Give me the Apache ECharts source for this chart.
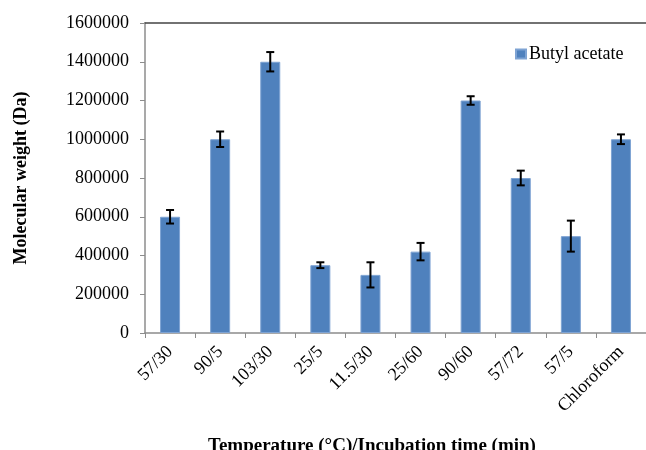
<!DOCTYPE html>
<html>
<head>
<meta charset="utf-8">
<script src="https://cdn.jsdelivr.net/npm/echarts@6/dist/echarts.min.js"></script>
<style>
  html, body { margin: 0; padding: 0; background: #fff; }
  #chart { width: 646px; height: 450px; }
</style>
</head>
<body>
<div id="chart"></div>
<script>
// data
var categories = ["57/30", "90/5", "103/30", "25/5", "11.5/30", "25/60", "90/60", "57/72", "57/5", "Chloroform"];
var molWeight = [600000, 1000000, 1400000, 350000, 300000, 420000, 1200000, 800000, 500000, 1000000];
var errors = [35000, 40000, 50000, 15000, 65000, 45000, 22000, 38000, 80000, 25000];
var yTicks = [0, 200000, 400000, 600000, 800000, 1000000, 1200000, 1400000, 1600000];

var serif = "Liberation Serif";
var myChart = echarts.init(document.getElementById("chart"));

// error bar data: [index, low, high]
var errData = [];
categories.forEach(function (c, i) {
  errData.push([i, molWeight[i] - errors[i], molWeight[i] + errors[i]]);
});

var option = {
  backgroundColor: "#fff",
  animation: false,
  title: {
    text: "Temperature (\u00b0C)/Incubation time (min)",
    left: 203,
    top: 432,
    textStyle: {
      fontFamily: serif,
      fontSize: 19,
      fontWeight: "bold",
      color: "#000",
    },
  },
  legend: {
    data: ["Butyl acetate"],
    left: 510,
    top: 40,
    itemWidth: 10,
    itemHeight: 9,
    icon: "rect",
    textStyle: {
      fontFamily: serif,
      fontSize: 18,
      color: "#000",
      padding: [0, 0, 0, -2],
    },
  },
  grid: {
    left: 145,
    right: -3,
    top: 23,
    bottom: 117,
  },
  xAxis: [
    {
      type: "category",
      data: categories,
      axisLine: { lineStyle: { color: "#8c8c8c", width: 1.5 } },
      axisTick: { show: true, length: 5, lineStyle: { color: "#8c8c8c" } },
      axisLabel: {
        rotate: 45,
        margin: 16,
        interval: 0,
        fontFamily: serif,
        fontSize: 18,
        color: "#000",
      },
    },
    {
      // top frame line
      type: "category",
      position: "top",
      data: categories,
      axisLine: { lineStyle: { color: "#444", width: 1.5 } },
      axisTick: { show: false },
      axisLabel: { show: false },
    },
  ],
  yAxis: {
    type: "value",
    min: 0,
    max: yTicks[yTicks.length - 1],
    interval: 200000,
    name: "Molecular weight (Da)",
    nameLocation: "middle",
    nameGap: 115,
    nameTextStyle: {
      fontFamily: serif,
      fontSize: 18,
      fontWeight: "bold",
      color: "#000",
    },
    axisLine: { show: true, lineStyle: { color: "#8c8c8c", width: 1.5 } },
    axisTick: { show: true, length: 5, lineStyle: { color: "#8c8c8c" } },
    splitLine: { show: false },
    axisLabel: {
      margin: 16,
      fontFamily: serif,
      fontSize: 18,
      color: "#000",
      formatter: function (v) {
        return String(v);
      },
    },
  },
  series: [
    {
      name: "Butyl acetate",
      type: "bar",
      data: molWeight,
      barWidth: 20,
      itemStyle: {
        color: "#4f81bd",
        borderColor: "#7ea3d3",
        borderWidth: 1,
      },
    },
    {
      type: "custom",
      data: errData,
      z: 10,
      renderItem: function (params, api) {
        var lo = api.coord([api.value(0), api.value(1)]);
        var hi = api.coord([api.value(0), api.value(2)]);
        var w = 4;
        var st = { stroke: "#000", lineWidth: 2 };
        return {
          type: "group",
          children: [
            { type: "line", shape: { x1: hi[0], y1: hi[1], x2: lo[0], y2: lo[1] }, style: st },
            { type: "line", shape: { x1: hi[0] - w, y1: hi[1], x2: hi[0] + w, y2: hi[1] }, style: st },
            { type: "line", shape: { x1: lo[0] - w, y1: lo[1], x2: lo[0] + w, y2: lo[1] }, style: st },
          ],
        };
      },
    },
  ],
};

myChart.setOption(option);
</script>
</body>
</html>
